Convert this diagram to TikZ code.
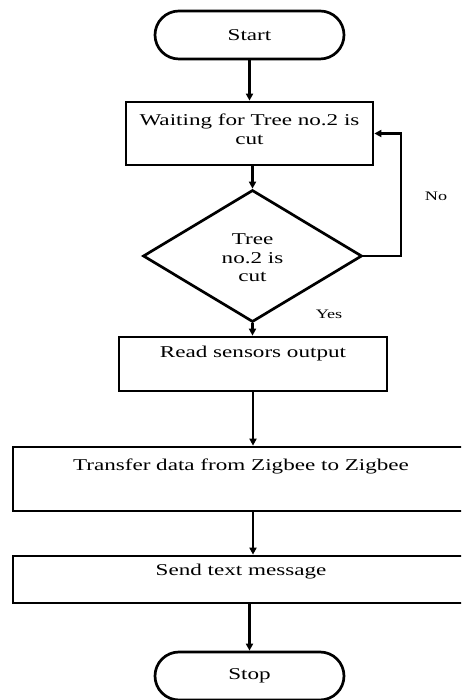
\documentclass[tikz,border=0pt]{standalone}
\usepackage{fontspec}
\usepackage{graphicx}
\setmainfont{Liberation Serif}
\usetikzlibrary{arrows.meta,shapes.geometric,shapes.misc}
\newcommand{\wtxt}[1]{\scalebox{1.4}[1]{#1}}
\tikzset{
  every node/.style={font=\fontsize{16.5}{18.5}\selectfont},
  term/.style={draw, line width=2.7pt, rounded rectangle, minimum width=189pt, minimum height=48pt, inner sep=0pt},
  procbox/.style={draw, line width=2.7pt, rectangle, inner sep=0pt},
  decision/.style={draw, line width=2.7pt, diamond, inner sep=0pt, minimum width=219pt, minimum height=132pt},
  txt/.style={inner sep=0pt, align=center},
  smalltxt/.style={inner sep=0pt, font=\fontsize{13}{15}\selectfont},
  flow/.style={line width=2.5pt, -{Triangle[length=7pt,width=7pt]}}
}
\begin{document}
\begin{tikzpicture}[x=1pt,y=1pt]
\useasboundingbox (0,0) rectangle (461,700);
\begin{scope}
\clip (0,0) rectangle (461,700);
\node[term] (start) at (249.5,665) {};
\node[txt] (starttxt) at (249.5,665) {\wtxt{Start}};
\node[procbox, minimum width=247pt, minimum height=63pt] (wait) at (249.5,566.5) {};
\node[txt] (waittxt) at (249.5,570.5) {\wtxt{Waiting for Tree no.2 is}\\\wtxt{cut}};
\node[decision] (dia) at (252.5,444) {};
\node[txt] (diatxt) at (252.5,442) {\wtxt{Tree}\\\wtxt{no.2 is}\\\wtxt{cut}};
\node[procbox, minimum width=268pt, minimum height=54pt] (read) at (253,336) {};
\node[txt] (readtxt) at (253,346) {\wtxt{Read sensors output}};
\node[procbox, minimum width=500pt, minimum height=64pt] (trans) at (263,221) {};
\node[txt] (transtxt) at (241,234) {\wtxt{Transfer data from Zigbee to Zigbee}};
\node[procbox, minimum width=500pt, minimum height=47pt] (send) at (263,120.5) {};
\node[txt] (sendtxt) at (241,128) {\wtxt{Send text message}};
\node[term] (stop) at (249.5,24) {};
\node[txt] (stoptxt) at (249.5,24) {\wtxt{Stop}};
\node[smalltxt] (no) at (436,504) {\wtxt{No}};
\node[smalltxt] (yes) at (329,386) {\wtxt{Yes}};
\coordinate (nc) at (401,566.5);
\draw[flow] (start.south) -- (wait.north -| start.south);
\draw[flow] (wait.south -| dia.north) -- (dia.north);
\draw[flow] (dia.east) -| (nc) -- (wait.east);
\draw[flow] (dia.south) -- (read.north -| dia.south);
\draw[flow] (read.south) -- (trans.north -| read.south);
\draw[flow] (trans.south -| read.south) -- (send.north -| read.south);
\draw[flow] (send.south -| stop.north) -- (stop.north);
\end{scope}
\end{tikzpicture}
\end{document}
